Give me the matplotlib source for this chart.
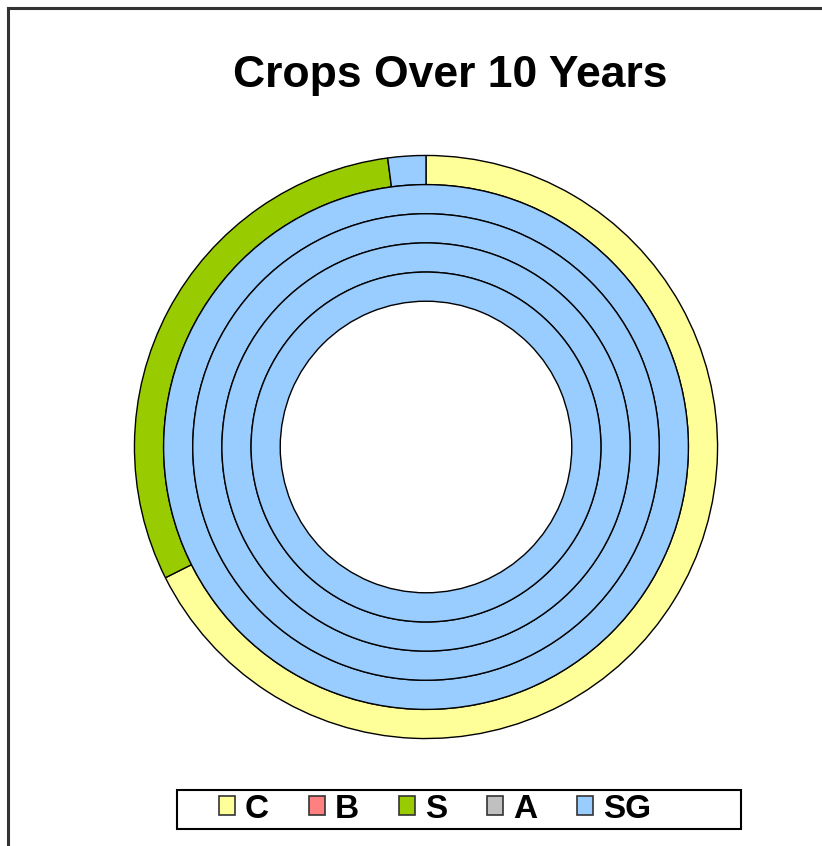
import matplotlib.pyplot as plt
from matplotlib.patches import Patch, Rectangle
from matplotlib.lines import Line2D

plt.rcParams['font.family'] = ['Liberation Sans', 'DejaVu Sans']

crops = ["C", "B", "S", "A", "SG"]
crop_colors = ["#FFFF99", "#FF8080", "#99CC00", "#C0C0C0", "#99CCFF"]

# one list per ring, outermost ring first (share of area, %)
ring_values = [
    [67.6, 0, 30.3, 0, 2.1],
    [0, 0, 0, 0, 100],
    [0, 0, 0, 0, 100],
    [0, 0, 0, 0, 100],
    [0, 0, 0, 0, 100],
]

fig = plt.figure(figsize=(8.22, 8.46), dpi=100)

# pie axes: centre (426, 447) px, outer radius 293 px
ax = fig.add_axes([133 / 822, 1 - 740 / 846, 586 / 822, 586 / 846])
ax.axis("off")

radius = 1.0
width = 0.1
for values in ring_values:
    vals = [v for v in values if v > 0]
    cols = [c for v, c in zip(values, crop_colors) if v > 0]
    ax.pie(vals, colors=cols, radius=radius, startangle=90, counterclock=False,
           wedgeprops=dict(width=width, edgecolor="black", linewidth=1.0))
    radius -= width
ax.set_aspect("equal")
ax.set_xlim(-1.005, 1.005)
ax.set_ylim(-1.005, 1.005)

fig.text(450 / 822, 1 - 87 / 846, "Crops Over 10 Years", ha="center", va="baseline",
         fontsize=32, fontweight="bold")

# chart area border (cut off on the right and bottom)
fig.add_artist(Line2D([8 / 822, 8 / 822], [0, 1 - 8 / 846], color="#333333", lw=2.2,
                      transform=fig.transFigure))
fig.add_artist(Line2D([8 / 822, 1], [1 - 8 / 846, 1 - 8 / 846], color="#333333", lw=2.2,
                      transform=fig.transFigure))

# legend
handles = [Patch(facecolor=c, edgecolor="#333333", linewidth=1.2) for c in crop_colors]
fig.add_artist(Rectangle((177 / 822, 1 - 829 / 846), (741 - 177) / 822, (829 - 790) / 846,
                         transform=fig.transFigure, facecolor="white", edgecolor="black",
                         linewidth=1.5))
fig.legend(handles, crops, loc="center", bbox_to_anchor=(435 / 822, 1 - 809 / 846),
           ncol=5, frameon=False, handlelength=0.48, handleheight=0.48, handletextpad=0.3,
           columnspacing=1.2, borderpad=0, prop=dict(size=24, weight="bold"))

fig.savefig("out.png", dpi=100, facecolor="white")
